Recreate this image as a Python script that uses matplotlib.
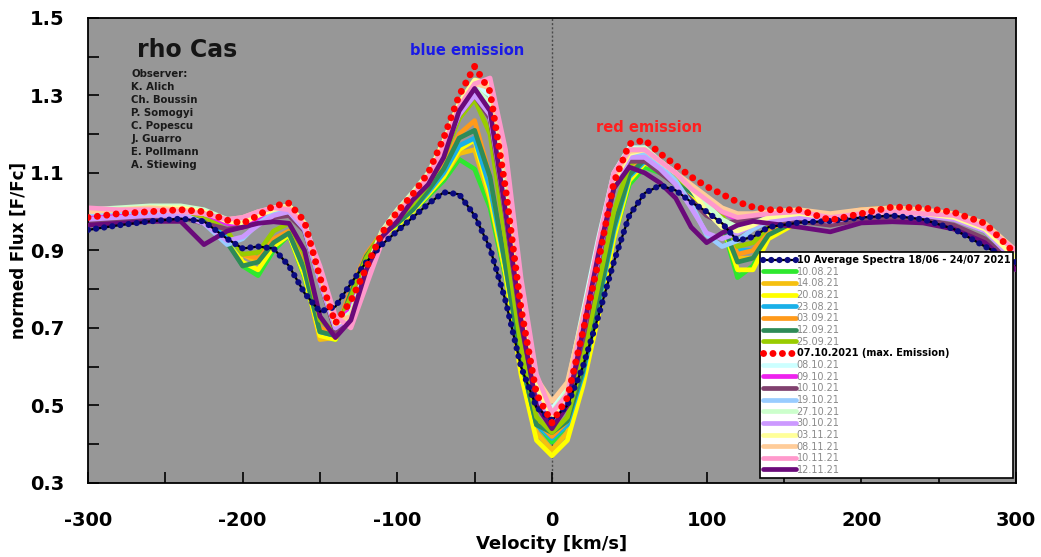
import matplotlib.pyplot as plt
from matplotlib.ticker import MultipleLocator

plt.rcParams['axes.unicode_minus'] = False

# velocity grid (km/s)
velocity = [-300, -280, -260, -240, -225, -210, -200, -190, -180, -170,
            -160, -150, -140, -130, -120, -110, -100, -90, -80, -70,
            -60, -50, -40, -30, -20, -10, 0, 10, 20, 30,
            40, 50, 60, 70, 80, 90, 100, 110, 120, 130,
            140, 160, 180, 200, 220, 240, 260, 280, 300]

avg_spectra = [0.953, 0.965, 0.975, 0.982, 0.975, 0.93, 0.905, 0.91, 0.905, 0.86,
               0.79, 0.742, 0.755, 0.815, 0.87, 0.915, 0.95, 0.985, 1.02, 1.05,
               1.045, 0.99, 0.905, 0.77, 0.60, 0.495, 0.462, 0.50, 0.60, 0.73,
               0.87, 0.99, 1.048, 1.068, 1.055, 1.025, 1.0, 0.97, 0.925, 0.935,
               0.96, 0.972, 0.976, 0.985, 0.99, 0.98, 0.955, 0.91, 0.87]

f_100821 = [0.99, 0.995, 1.0, 0.995, 0.975, 0.93, 0.86, 0.835, 0.90, 0.94,
            0.83, 0.68, 0.67, 0.76, 0.87, 0.935, 0.965, 1.0, 1.04, 1.08,
            1.135, 1.11, 1.01, 0.83, 0.61, 0.455, 0.405, 0.45, 0.57, 0.74,
            0.93, 1.07, 1.115, 1.10, 1.07, 1.04, 1.01, 0.97, 0.83, 0.86,
            0.935, 0.975, 0.98, 0.995, 1.0, 0.995, 0.985, 0.95, 0.86]
f_140821 = [0.99, 0.995, 1.0, 0.995, 0.98, 0.945, 0.89, 0.87, 0.92, 0.945,
            0.84, 0.67, 0.675, 0.78, 0.88, 0.94, 0.97, 1.005, 1.045, 1.09,
            1.15, 1.16, 1.03, 0.84, 0.6, 0.43, 0.385, 0.43, 0.56, 0.74,
            0.94, 1.085, 1.13, 1.11, 1.08, 1.05, 1.015, 0.98, 0.88, 0.88,
            0.94, 0.98, 0.985, 1.0, 1.005, 1.0, 0.99, 0.955, 0.87]
f_200821 = [0.99, 0.995, 1.005, 1.0, 0.98, 0.94, 0.87, 0.85, 0.91, 0.94,
            0.835, 0.68, 0.67, 0.77, 0.875, 0.935, 0.965, 1.0, 1.045, 1.09,
            1.16, 1.185, 1.04, 0.84, 0.58, 0.41, 0.37, 0.41, 0.55, 0.73,
            0.93, 1.08, 1.125, 1.11, 1.08, 1.045, 1.01, 0.97, 0.85, 0.85,
            0.93, 0.975, 0.985, 1.0, 1.005, 1.0, 0.99, 0.95, 0.87]
f_230821 = [0.985, 0.99, 0.995, 0.99, 0.975, 0.94, 0.89, 0.89, 0.93, 0.945,
            0.85, 0.69, 0.68, 0.78, 0.88, 0.94, 0.97, 1.005, 1.05, 1.1,
            1.17, 1.19, 1.06, 0.86, 0.62, 0.45, 0.415, 0.45, 0.58, 0.76,
            0.95, 1.09, 1.13, 1.11, 1.08, 1.05, 1.02, 0.98, 0.9, 0.9,
            0.95, 0.98, 0.985, 0.995, 1.0, 0.995, 0.985, 0.95, 0.87]
f_030921 = [0.99, 0.995, 1.0, 1.0, 0.985, 0.95, 0.89, 0.88, 0.93, 0.95,
            0.86, 0.7, 0.685, 0.80, 0.89, 0.945, 0.975, 1.01, 1.06, 1.12,
            1.2, 1.235, 1.09, 0.87, 0.63, 0.46, 0.42, 0.46, 0.6, 0.78,
            0.97, 1.1, 1.14, 1.12, 1.09, 1.06, 1.03, 0.99, 0.89, 0.9,
            0.95, 0.985, 0.99, 1.005, 1.01, 1.0, 0.99, 0.96, 0.88]
f_120921 = [0.985, 0.99, 0.995, 0.99, 0.975, 0.92, 0.86, 0.87, 0.92, 0.945,
            0.85, 0.69, 0.68, 0.79, 0.885, 0.94, 0.97, 1.005, 1.055, 1.11,
            1.19, 1.21, 1.09, 0.86, 0.62, 0.45, 0.43, 0.46, 0.59, 0.77,
            0.96, 1.095, 1.135, 1.11, 1.08, 1.05, 1.02, 0.97, 0.87, 0.88,
            0.94, 0.98, 0.985, 0.995, 1.0, 0.995, 0.985, 0.95, 0.87]
f_250921 = [0.99, 0.995, 1.0, 1.0, 0.99, 0.95, 0.89, 0.895, 0.95, 0.97,
            0.89, 0.72, 0.69, 0.78, 0.88, 0.945, 0.98, 1.02, 1.07, 1.14,
            1.24, 1.29, 1.2, 0.93, 0.65, 0.47, 0.43, 0.47, 0.62, 0.81,
            1.0, 1.12, 1.15, 1.12, 1.09, 1.06, 1.03, 0.99, 0.91, 0.92,
            0.96, 0.985, 0.99, 1.0, 1.005, 1.0, 0.99, 0.96, 0.88]
f_071021 = [0.985, 0.995, 1.0, 1.005, 1.0, 0.978, 0.97, 0.99, 1.015, 1.022,
            0.975, 0.83, 0.712, 0.77, 0.855, 0.945, 1.0, 1.045, 1.1, 1.19,
            1.30, 1.375, 1.31, 1.06, 0.75, 0.53, 0.455, 0.52, 0.69, 0.87,
            1.075, 1.175, 1.185, 1.15, 1.12, 1.09, 1.065, 1.045, 1.025, 1.012,
            1.005, 1.005, 0.978, 0.995, 1.012, 1.01, 0.998, 0.97, 0.89]
f_081021 = [1.0, 1.005, 1.01, 1.005, 0.995, 0.975, 0.975, 0.99, 1.005, 1.01,
            0.97, 0.85, 0.72, 0.74, 0.84, 0.94, 0.995, 1.04, 1.09, 1.17,
            1.27, 1.33, 1.3, 1.08, 0.78, 0.55, 0.49, 0.55, 0.74, 0.93,
            1.1, 1.165, 1.165, 1.13, 1.1, 1.06, 1.02, 0.97, 0.95, 0.97,
            0.985, 1.0, 0.99, 1.0, 1.005, 1.0, 0.99, 0.965, 0.89]
f_091021 = [0.99, 0.995, 1.0, 1.0, 0.995, 0.97, 0.96, 0.98, 1.005, 1.015,
            0.965, 0.83, 0.71, 0.75, 0.85, 0.94, 0.995, 1.04, 1.09, 1.17,
            1.27, 1.32, 1.27, 1.02, 0.74, 0.53, 0.46, 0.52, 0.69, 0.88,
            1.07, 1.15, 1.16, 1.13, 1.1, 1.06, 1.03, 1.0, 0.98, 0.985,
            0.99, 1.0, 0.985, 0.995, 1.0, 1.0, 0.99, 0.96, 0.88]
f_101021 = [0.975, 0.98, 0.985, 0.985, 0.97, 0.955, 0.96, 0.97, 0.985, 0.99,
            0.95, 0.82, 0.69, 0.72, 0.83, 0.93, 0.985, 1.03, 1.08, 1.15,
            1.25, 1.3, 1.24, 0.99, 0.71, 0.51, 0.45, 0.51, 0.67, 0.87,
            1.06, 1.13, 1.13, 1.1, 1.07, 1.03, 0.99, 0.97, 0.975, 0.98,
            0.98, 0.975, 0.965, 0.98, 0.985, 0.98, 0.965, 0.93, 0.86]
f_191021 = [0.995, 1.0, 1.0, 0.995, 0.97, 0.915, 0.93, 0.97, 0.995, 1.0,
            0.955, 0.82, 0.7, 0.74, 0.845, 0.94, 0.99, 1.035, 1.085, 1.16,
            1.26, 1.31, 1.25, 1.02, 0.74, 0.53, 0.47, 0.53, 0.7, 0.89,
            1.08, 1.15, 1.15, 1.12, 1.08, 1.02, 0.94, 0.91, 0.925, 0.955,
            0.975, 0.99, 0.98, 0.995, 1.0, 0.995, 0.985, 0.955, 0.88]
f_271021 = [1.005, 1.01, 1.015, 1.015, 1.005, 0.98, 0.98, 0.995, 1.01, 1.015,
            0.97, 0.84, 0.71, 0.74, 0.85, 0.95, 1.005, 1.05, 1.1, 1.18,
            1.28, 1.32, 1.28, 1.06, 0.77, 0.54, 0.48, 0.54, 0.72, 0.91,
            1.09, 1.16, 1.165, 1.13, 1.1, 1.06, 1.02, 0.98, 0.96, 0.97,
            0.985, 1.0, 0.99, 1.0, 1.005, 1.0, 0.99, 0.96, 0.89]
f_301021 = [0.98, 0.985, 0.99, 0.99, 0.97, 0.925, 0.935, 0.965, 0.99, 1.0,
            0.955, 0.82, 0.7, 0.73, 0.84, 0.935, 0.985, 1.03, 1.08, 1.155,
            1.25, 1.3, 1.25, 1.0, 0.73, 0.52, 0.46, 0.52, 0.69, 0.88,
            1.07, 1.14, 1.14, 1.11, 1.07, 1.01, 0.945, 0.93, 0.945, 0.965,
            0.975, 0.985, 0.975, 0.99, 0.995, 0.99, 0.98, 0.95, 0.87]
f_031121 = [1.0, 1.005, 1.01, 1.01, 1.0, 0.975, 0.97, 0.99, 1.005, 1.015,
            0.97, 0.84, 0.71, 0.73, 0.84, 0.945, 1.0, 1.045, 1.095, 1.18,
            1.28, 1.34, 1.33, 1.12, 0.8, 0.55, 0.47, 0.53, 0.71, 0.9,
            1.08, 1.15, 1.16, 1.13, 1.1, 1.06, 1.0, 0.96, 0.95, 0.965,
            0.985, 0.995, 0.985, 0.995, 1.0, 0.995, 0.985, 0.955, 0.88]
f_081121 = [1.0, 1.005, 1.01, 1.005, 0.995, 0.98, 0.985, 1.0, 1.01, 1.01,
            0.965, 0.84, 0.715, 0.73, 0.84, 0.945, 1.0, 1.045, 1.09, 1.17,
            1.27, 1.33, 1.32, 1.12, 0.81, 0.57, 0.51, 0.56, 0.73, 0.91,
            1.09, 1.155, 1.16, 1.13, 1.1, 1.07, 1.04, 1.01, 0.995, 0.995,
            1.0, 1.005, 0.995, 1.005, 1.01, 1.005, 0.995, 0.97, 0.9]
f_101121 = [1.01, 1.005, 1.005, 1.0, 0.995, 0.98, 0.985, 1.0, 1.01, 1.005,
            0.965, 0.86, 0.73, 0.70, 0.81, 0.92, 0.99, 1.04, 1.09, 1.17,
            1.27, 1.33, 1.345, 1.16, 0.83, 0.58, 0.48, 0.53, 0.72, 0.92,
            1.1, 1.16, 1.16, 1.13, 1.1, 1.06, 1.03, 1.0, 0.985, 0.99,
            0.995, 1.0, 0.985, 0.995, 1.0, 0.995, 0.99, 0.96, 0.9]
f_121121 = [0.965, 0.97, 0.975, 0.975, 0.915, 0.95, 0.96, 0.97, 0.974, 0.97,
            0.9, 0.73, 0.675, 0.72, 0.85, 0.935, 0.975, 1.03, 1.07, 1.14,
            1.26, 1.318, 1.26, 1.0, 0.72, 0.5, 0.44, 0.5, 0.69, 0.89,
            1.06, 1.115, 1.1, 1.074, 1.035, 0.96, 0.92, 0.945, 0.965, 0.975,
            0.97, 0.96, 0.948, 0.971, 0.974, 0.971, 0.955, 0.92, 0.85]

# the plain coloured spectra, in legend order (red and average handled apart)
spectra = [
    ('10.08.21', f_100821, '#2ee82e'),
    ('14.08.21', f_140821, '#f5c010'),
    ('20.08.21', f_200821, '#ffff00'),
    ('23.08.21', f_230821, '#1ab0e8'),
    ('03.09.21', f_030921, '#ff9a1a'),
    ('12.09.21', f_120921, '#2e8b57'),
    ('25.09.21', f_250921, '#99cc00'),
    ('08.10.21', f_081021, '#ccffff'),
    ('09.10.21', f_091021, '#ee22ee'),
    ('10.10.21', f_101021, '#80406e'),
    ('19.10.21', f_191021, '#99ccff'),
    ('27.10.21', f_271021, '#ccffcc'),
    ('30.10.21', f_301021, '#cc99ff'),
    ('03.11.21', f_031121, '#ffff99'),
    ('08.11.21', f_081121, '#ffcc99'),
    ('10.11.21', f_101121, '#ff99cc'),
    ('12.11.21', f_121121, '#6a0a7a'),
]

observers = ['Observer:', 'K. Alich', 'Ch. Boussin', 'P. Somogyi', 'C. Popescu',
             'J. Guarro', 'E. Pollmann', 'A. Stiewing']

fig = plt.figure(figsize=(10.41, 5.57), dpi=100)
ax = fig.add_axes([0.0845, 0.133, 0.8914, 0.8348])
ax.set_facecolor('#979797')

lines = {}
for label, flux, color in spectra:
    z = 3 if label == '12.11.21' else 2
    lines[label], = ax.plot(velocity, flux, color=color, lw=3.4, zorder=z,
                            solid_joinstyle='round', solid_capstyle='round')

avg_black, = ax.plot(velocity, avg_spectra, color='black', lw=1.6, zorder=4)
avg_dots, = ax.plot(velocity, avg_spectra, color='#0a0a80', lw=4.5, zorder=5,
                    linestyle=(0, (0.01, 1.3)), dash_capstyle='round')
red_dots, = ax.plot(velocity, f_071021, color='#ff0000', lw=5, zorder=6,
                    linestyle=(0, (0.01, 1.35)), dash_capstyle='round')

ax.axvline(0, color='#4a4a4a', lw=1, linestyle=(0, (1.5, 1.5)), zorder=1)

ax.set_xlim(-300, 300)
ax.set_ylim(0.3, 1.5)
ax.set_xticks(range(-300, 301, 100))
ax.xaxis.set_minor_locator(MultipleLocator(50))
yt = [0.3, 0.5, 0.7, 0.9, 1.1, 1.3, 1.5]
ax.set_yticks(yt)
ax.set_yticklabels(['%.1f' % v for v in yt])
ax.yaxis.set_minor_locator(MultipleLocator(0.1))
ax.tick_params(which='both', direction='in', length=8, width=1.2,
               top=False, right=False)
ax.tick_params(axis='x', pad=20, labelsize=14)
ax.tick_params(axis='y', pad=17, labelsize=14)
for t in ax.get_xticklabels() + ax.get_yticklabels():
    t.set_fontweight('bold')
for s in ax.spines.values():
    s.set_linewidth(1.3)

ax.set_xlabel('Velocity [km/s]', fontsize=13, fontweight='bold')
ax.xaxis.set_label_coords(0.5, -0.112)
ax.set_ylabel('normed Flux [F/Fc]', fontsize=12, fontweight='bold', va='center')
ax.yaxis.set_label_coords(-0.0745, 0.5)

ax.text(-268, 1.417, 'rho Cas', fontsize=17, fontweight='bold',
        color='#151515', va='center', ha='left')
ax.text(-272, 1.368, '\n'.join(observers), fontsize=7.3, fontweight='bold',
        color='#1a1a1a', va='top', ha='left', linespacing=1.38)
ax.text(-55, 1.415, 'blue emission', fontsize=10.5, fontweight='bold',
        color='#1a1ae6', ha='center', va='center')
ax.text(63, 1.216, 'red emission', fontsize=10.5, fontweight='bold',
        color='#ff2020', ha='center', va='center')

handles = [(avg_black, avg_dots)]
labels = ['10 Average Spectra 18/06 - 24/07 2021']
for label, flux, color in spectra[:7]:
    handles.append(lines[label])
    labels.append(label)
handles.append(red_dots)
labels.append('07.10.2021 (max. Emission)')
for label, flux, color in spectra[7:]:
    handles.append(lines[label])
    labels.append(label)

leg = ax.legend(handles, labels, loc='lower right', bbox_to_anchor=(0.997, 0.011),
                borderaxespad=0, fontsize=7, labelspacing=0.17, handlelength=3.4,
                handletextpad=0.1, borderpad=0.3, fancybox=False,
                framealpha=1, edgecolor='black')
leg.get_frame().set_linewidth(1.2)
leg.set_zorder(10)
for i, t in enumerate(leg.get_texts()):
    if i in (0, 8):
        t.set_fontweight('bold')
        t.set_color('black')
    else:
        t.set_color('#8a8a8a')

plt.savefig('out.png', dpi=100)
